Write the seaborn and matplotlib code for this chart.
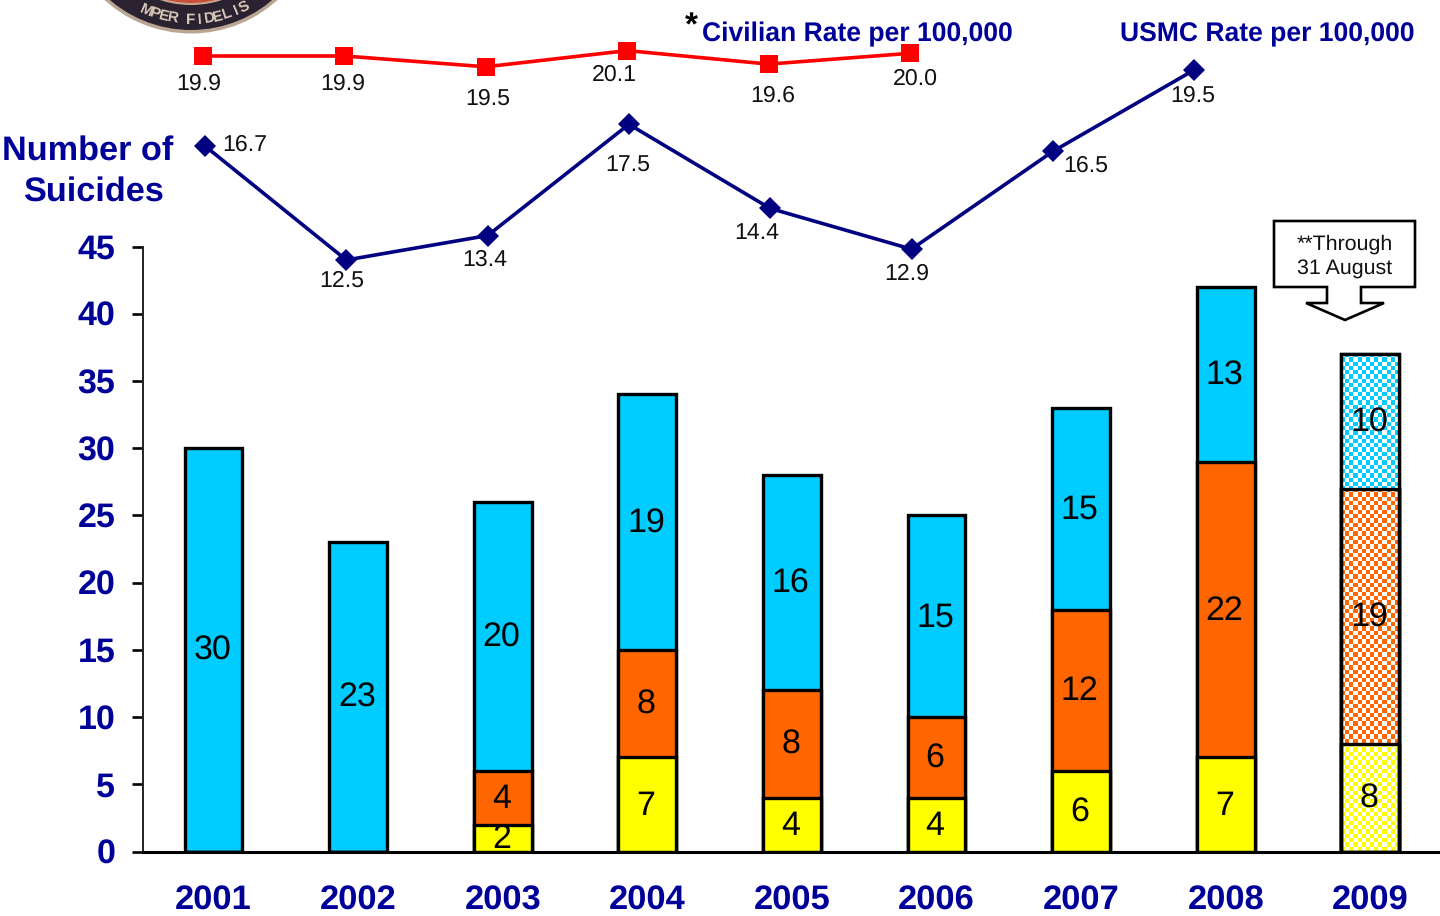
import numpy as np
import pandas as pd
import matplotlib
matplotlib.use("Agg")
import matplotlib.pyplot as plt
from matplotlib.patches import Circle, Polygon, Rectangle
import seaborn as sns

years = ["2001", "2002", "2003", "2004", "2005", "2006", "2007", "2008", "2009"]
yellow_counts = [0, 0, 2, 7, 4, 4, 6, 7, 8]
orange_counts = [0, 0, 4, 8, 8, 6, 12, 22, 19]
blue_counts = [30, 23, 20, 19, 16, 15, 15, 13, 10]
usmc_rate = [16.7, 12.5, 13.4, 17.5, 14.4, 12.9, 16.5, 19.5]
civilian_rate = [19.9, 19.9, 19.5, 20.1, 19.6, 20.0]
y_ticks = [0, 5, 10, 15, 20, 25, 30, 35, 40, 45]

NAVY = "#000099"
LINE_NAVY = "#000080"
BLUE, ORANGE, YELLOW = "#00CCFF", "#FF6600", "#FFFF00"
FONT = "Liberation Sans"
W, H = 1440, 916

sns.set_theme(style="white")
plt.rcParams["font.family"] = [FONT, "DejaVu Sans"]
plt.rcParams["text.hinting"] = "none"

df = pd.DataFrame({"year": years, "y": yellow_counts, "o": orange_counts, "b": blue_counts})
df["yo"] = df["y"] + df["o"]
df["total"] = df["yo"] + df["b"]

fig = plt.figure(figsize=(W / 100, H / 100), dpi=100, facecolor="white")


def full_axes(z):
    a = fig.add_axes([0, 0, 1, 1], zorder=z)
    a.patch.set_alpha(0)
    a.set_axis_off()
    return a


# ---- stacked bars ----
X0, X1, Y0, Y45 = 143.0, 1440.0, 851.5, 246.5
ax = fig.add_axes([X0 / W, 1 - Y0 / H, (X1 - X0) / W, (Y0 - Y45) / H], zorder=2)
ax.patch.set_alpha(0)
for col, colr in [("total", BLUE), ("yo", ORANGE), ("y", YELLOW)]:
    sns.barplot(data=df, x="year", y=col, color=colr, saturation=1, width=0.4,
                edgecolor="black", linewidth=2.4, ax=ax)
# centre of first bar at 213.5 px, spacing 144.6 px
ax.set_xlabel("")
ax.set_ylabel("")
ax.set_yticks(y_ticks)
ax.set_xticks(range(len(years)))
ax.set_xticklabels(years)
for sp in ("top", "right"):
    ax.spines[sp].set_visible(False)
ax.spines["left"].set_linewidth(1.4)
ax.spines["left"].set_color("#222222")
ax.spines["bottom"].set_linewidth(2.2)
ax.spines["bottom"].set_color("black")
ax.tick_params(axis="y", length=8, width=1.9, color="black", left=True, pad=12)
ax.tick_params(axis="x", length=0, pad=24)
for t in ax.get_xticklabels():
    t.set_fontsize(24.8)
for t in ax.get_yticklabels():
    t.set_fontsize(24.5)
for t in ax.get_xticklabels() + ax.get_yticklabels():
    t.set_fontweight("bold")
    t.set_color(NAVY)
    t.set_fontfamily(FONT)

# checkered fill for the partial 2009 bar
n = len(years)
last = [ax.patches[n - 1], ax.patches[2 * n - 1], ax.patches[3 * n - 1]]
px_per_y = (Y0 - Y45) / 45
for k, (p, colr) in enumerate(zip(last, [BLUE, ORANGE, YELLOW])):
    x, w, h = p.get_x(), p.get_width(), p.get_height()
    ny = max(int(round(h * px_per_y / 4.3)), 1)
    nx = 14
    grid = np.indices((ny, nx)).sum(axis=0) % 2
    rgb = np.array([matplotlib.colors.to_rgb(colr), (1, 1, 1)])[grid]
    im = ax.imshow(rgb, extent=(x, x + w, 0, h), origin="lower", aspect="auto",
                   interpolation="nearest", zorder=3 + k * 0.1)
ax.set_xlim((X0 - 213.5) / 144.6, (X1 - 213.5) / 144.6)
ax.set_ylim(0, 45)
for p in last:
    ax.add_patch(Rectangle((p.get_x(), 0), p.get_width(), p.get_height(), fill=False,
                           edgecolor="black", linewidth=2.4, zorder=5))

# value labels in the stacks
for i, yr in enumerate(years):
    base = 0
    for vals in (yellow_counts, orange_counts, blue_counts):
        v = vals[i]
        if v:
            ax.annotate(str(v), (i, base + v / 2), xytext=(-1, -1), textcoords="offset points",
                        ha="center", va="center", fontsize=24.5, color="black", zorder=6)
        base += v


# ---- rate lines, each with its own hidden scale ----
def rate_axes(x_first, x_step, v_ref, y_ref, px_per_unit, z):
    a = full_axes(z)
    lims = ((0 - x_first) / x_step, (W - x_first) / x_step,
            v_ref - (H - y_ref) / px_per_unit, v_ref + y_ref / px_per_unit)
    return a, lims


ax_u, lim_u = rate_axes(205, 141.3, 12.5, 260, 27.14, 3)
sns.lineplot(x=list(range(len(usmc_rate))), y=usmc_rate, ax=ax_u, color=LINE_NAVY, lw=2.6,
             marker="D", markersize=11, markeredgewidth=0, legend=False)
ax_u.set_axis_off()
ax_u.set_xlim(lim_u[:2])
ax_u.set_ylim(lim_u[2:])
u_off = [(40, 1), (-5, -21), (-3, -24), (-1, -42), (-13, -25), (-5, -25), (33, -14), (-1, -26)]
for i, (v, o) in enumerate(zip(usmc_rate, u_off)):
    ax_u.annotate(f"{v:.1f}", (i, v), xytext=(o[0] * 0.72, o[1] * 0.72), textcoords="offset points",
                  ha="center", va="center", fontsize=16.7, color="#111111")

ax_c, lim_c = rate_axes(203, 141.4, 19.9, 56, 27.0, 3)
sns.lineplot(x=list(range(len(civilian_rate))), y=civilian_rate, ax=ax_c, color="#FF0000", lw=2.6,
             marker="s", markersize=13, markeredgewidth=0, legend=False)
ax_c.set_axis_off()
ax_c.set_xlim(lim_c[:2])
ax_c.set_ylim(lim_c[2:])
c_off = [(-4, -28), (-2, -28), (2, -32), (-13, -24), (4, -32), (5, -26)]
for i, (v, o) in enumerate(zip(civilian_rate, c_off)):
    ax_c.annotate(f"{v:.1f}", (i, v), xytext=(o[0] * 0.72, o[1] * 0.72), textcoords="offset points",
                  ha="center", va="center", fontsize=16.7, color="#111111")

# ---- pixel-space overlay: titles, callout, seal ----
ov = full_axes(4)
ov.set_xlim(0, W)
ov.set_ylim(H, 0)
ov.text(88, 151, "Number of", ha="center", va="center", fontsize=24.7, fontweight="bold", color=NAVY)
ov.text(93, 192, "Suicides", ha="center", va="center", fontsize=24.7, fontweight="bold", color=NAVY)
ov.text(702, 34, "Civilian Rate per 100,000", ha="left", va="center", fontsize=19.1,
        fontweight="bold", color=NAVY)
ov.text(1120, 34, "USMC Rate per 100,000", ha="left", va="center", fontsize=19.1,
        fontweight="bold", color=NAVY)
ov.text(691, 27, "*", ha="center", va="center", fontsize=24, fontweight="bold", color="black")

callout = [(1274, 221), (1415, 221), (1415, 287), (1361, 287), (1361, 303), (1384, 303),
           (1345, 320), (1306, 303), (1327, 303), (1327, 287), (1274, 287)]
ov.add_patch(Polygon(callout, closed=True, facecolor="white", edgecolor="black", linewidth=1.9))
ov.text(1345, 244, "**Through", ha="center", va="center", fontsize=15.4, color="#111111")
ov.text(1345, 269, "31 August", ha="center", va="center", fontsize=15.4, color="#111111")

cx, cy = 191, -95
for r, c in [(128.5, "#B8A592"), (125, "#2A2230"), (100, "#C9A58C"), (98, "#C8503A")]:
    ov.add_patch(Circle((cx, cy), r, facecolor=c, edgecolor="none"))
seal = "MPER FIDELIS"
for i, ch in enumerate(seal):
    a = 113 - 4.6 * i
    th = np.deg2rad(a)
    ov.text(cx + 115 * np.cos(th), cy + 115 * np.sin(th), ch, rotation=90 - a,
            rotation_mode="anchor", ha="center", va="center", fontsize=11,
            fontweight="bold", color="#D8C8B8")

fig.savefig("out.png", dpi=100, facecolor="white")
